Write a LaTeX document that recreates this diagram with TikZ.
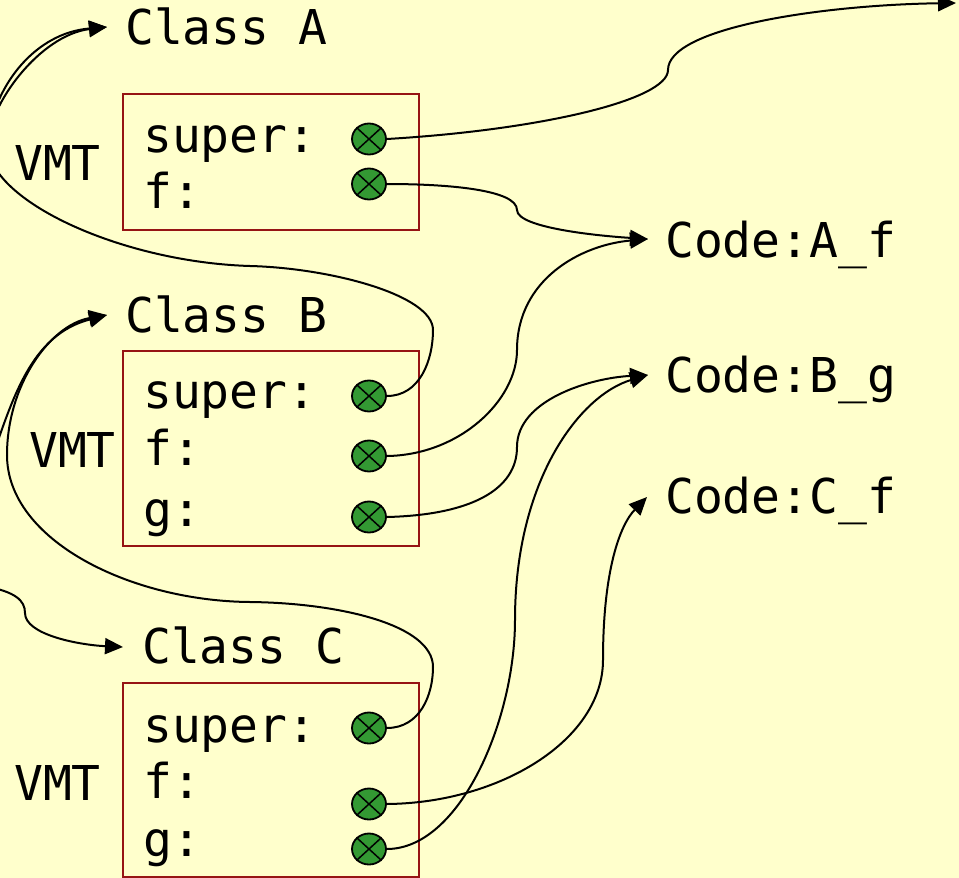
\documentclass[tikz,border=0pt]{standalone}
\usepackage{fontspec}
\setmonofont{DejaVu Sans Mono}
\usetikzlibrary{arrows.meta,shapes.geometric}
\definecolor{bg}{HTML}{FFFFCC}
\definecolor{boxred}{RGB}{150,20,20}
\definecolor{ptrgreen}{HTML}{339933}
\begin{document}
\begin{tikzpicture}[x=1pt,y=-1pt,
  lbl/.style={font=\ttfamily\fontsize{48}{56}\selectfont, anchor=base west, inner sep=0pt},
  vmtbox/.style={draw=boxred, line width=2.2pt, rectangle, inner sep=0pt},
  ptr/.style={ellipse, draw=black, line width=1.8pt, fill=ptrgreen, minimum width=34pt, minimum height=31pt, inner sep=0pt},
  link/.style={line width=2pt, -{Triangle[length=18pt,width=16pt]}}]
\useasboundingbox (0,0) rectangle (959,878);
\clip (0,0) rectangle (959,878);
\fill[bg] (0,0) rectangle (959,878);

% boxes
\node[vmtbox, minimum width=296pt, minimum height=136pt] (boxA) at (271,162) {};
\node[vmtbox, minimum width=296pt, minimum height=195pt] (boxB) at (271,448.5) {};
\node[vmtbox, minimum width=296pt, minimum height=194pt] (boxC) at (271,780) {};

% titles
\node[lbl] (clsA) at (125,45) {Class A};
\node[lbl] (clsB) at (125,332) {Class B};
\node[lbl] (clsC) at (142,663) {Class C};

% VMT labels
\node[lbl] (vmtA) at (14,180) {VMT};
\node[lbl] (vmtB) at (29,467) {VMT};
\node[lbl] (vmtC) at (14,800) {VMT};

% fields
\node[lbl] (fAs) at (143,152) {super:};
\node[lbl] (fAf) at (143,208) {f:};
\node[lbl] (fBs) at (143,408) {super:};
\node[lbl] (fBf) at (143,465) {f:};
\node[lbl] (fBg) at (143,526) {g:};
\node[lbl] (fCs) at (143,742) {super:};
\node[lbl] (fCf) at (143,798) {f:};
\node[lbl] (fCg) at (143,856) {g:};

% code labels
\node[lbl] (codeAf) at (665,257) {Code:A\_f};
\node[lbl] (codeBg) at (665,392) {Code:B\_g};
\node[lbl] (codeCf) at (665,513) {Code:C\_f};

% connector end points
\coordinate (inA) at (107,27);
\coordinate (inB) at (107,315);
\coordinate (inC) at (123,647);
\coordinate (inAf) at (648,239);
\coordinate (inBg) at (648,375);
\coordinate (inCf) at (647,497);
\coordinate (topR) at (956,3);
\coordinate (offA) at (-10,130);
\coordinate (offB) at (-12,470);
\coordinate (offC) at (-15,586);

% pointer cells
\node[ptr] (pA1) at (369,139) {};
\node[ptr] (pA2) at (369,184) {};
\node[ptr] (pB1) at (369,396) {};
\node[ptr] (pB2) at (369,456) {};
\node[ptr] (pB3) at (369,517) {};
\node[ptr] (pC1) at (369,728) {};
\node[ptr] (pC2) at (369,804) {};
\node[ptr] (pC3) at (369,849) {};

% connectors
\draw[link] (pA1.east) .. controls (540,130) and (668,100) .. (668,70) .. controls (668,28) and (820,5) .. (topR);
\draw[link] (pA2.east) .. controls (450,184) and (517,190) .. (517,210) .. controls (517,228) and (600,236) .. (inAf);
\draw[link] (pB1.east) .. controls (420,396) and (433,360) .. (433,330) .. controls (433,295) and (330,268) .. (250,266) .. controls (120,262) and (-12,200) .. (-12,145) .. controls (-12,105) and (40,35) .. (inA);
\draw[link] (offA) .. controls (-3,85) and (35,33) .. (inA);
\draw[link] (pB2.east) .. controls (460,455) and (517,400) .. (517,350) .. controls (517,280) and (580,245) .. (inAf);
\draw[link] (pB3.east) .. controls (470,515) and (517,490) .. (517,447) .. controls (517,400) and (590,378) .. (inBg);
\draw[link] (pC1.east) .. controls (420,728) and (433,695) .. (433,667) .. controls (433,625) and (340,603) .. (250,602) .. controls (130,601) and (7,540) .. (7,455) .. controls (7,385) and (50,325) .. (inB);
\draw[link] (offB) .. controls (12,400) and (30,335) .. (inB);
\draw[link] (offC) .. controls (15,592) and (25,600) .. (25,613) .. controls (25,635) and (80,645) .. (inC);
\draw[link] (pC2.east) .. controls (500,803) and (603,740) .. (603,660) .. controls (603,570) and (620,525) .. (inCf);
\draw[link] (pC3.east) .. controls (460,849) and (515,720) .. (515,620) .. controls (515,480) and (580,395) .. (inBg);

% crosses in the pointer cells (drawn on top)
\foreach \p in {pA1,pA2,pB1,pB2,pB3,pC1,pC2,pC3}{
  \draw[line width=1.5pt] (\p.north east) -- (\p.south west) (\p.north west) -- (\p.south east);
}
\end{tikzpicture}
\end{document}
